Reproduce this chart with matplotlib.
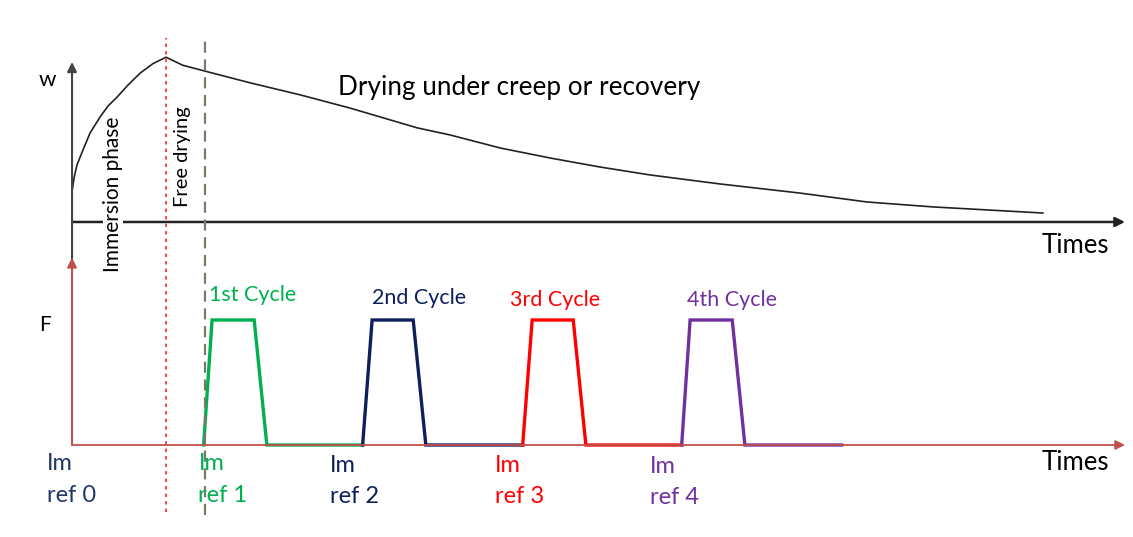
import matplotlib.pyplot as plt

plt.rcParams['font.family'] = ['Lato', 'DejaVu Sans']

# moisture content w(t) sketched over dimensionless time
w_time = [0, 0.19, 0.47, 1.04, 1.71, 2.66, 3.42, 4.27, 5.32, 6.46, 7.69, 8.93,
          10.5, 12.8, 16.9, 21.7, 26.4, 32.8, 35.9, 40.7, 45.4, 50.1,
          54.9, 61.5, 69.1, 75.5, 81.8, 92.2]
w_value = [0.19, 0.275, 0.356, 0.45, 0.556, 0.656, 0.725, 0.78, 0.856, 0.93, 0.99, 1.03,
           0.98, 0.94, 0.87, 0.794, 0.712, 0.588, 0.544, 0.462, 0.40, 0.344,
           0.294, 0.238, 0.181, 0.125, 0.094, 0.056]

# load cycles (time, F)
cycle_names = ['1st Cycle', '2nd Cycle', '3rd Cycle', '4th Cycle']
cycle_colors = ['#00b050', '#0d1f5c', '#ff0000', '#7030a0']
cycle_t = [
    [12.5, 13.3, 17.3, 18.5, 27.6],
    [27.6, 28.5, 32.4, 33.6, 42.8],
    [42.8, 43.7, 47.6, 48.8, 57.9],
    [57.9, 58.7, 62.7, 63.9, 73.1],
]
cycle_F = [0, 1, 1, 0, 0]
cycle_label_t = [13.0, 28.5, 41.6, 58.4]
cycle_label_F = [1.2, 1.176, 1.16, 1.16]

ref_labels = ['ref 0', 'ref 1', 'ref 2', 'ref 3', 'ref 4']
ref_colors = ['#1f3864', '#00b050', '#0d1f5c', '#ff0000', '#7030a0']
ref_t = [-2.4, 12.0, 24.5, 40.2, 54.9]
ref_im_F = [-0.144, -0.144, -0.165, -0.165, -0.17]
ref_F = [-0.405, -0.405, -0.41, -0.41, -0.42]

t_immersion_end = 8.9
t_free_end = 12.6

fig = plt.figure(figsize=(11.33, 5.37), dpi=100)
top = fig.add_axes([0, 0, 1, 1])
bot = fig.add_axes([0, 0, 1, 1])
bot.patch.set_alpha(0)
for ax in (top, bot):
    ax.set_xlim(-6.84, 100.76)
    ax.axis('off')
top.set_ylim(-1.969, 1.3875)
bot.set_ylim(-0.736, 3.56)

# top panel axes
top.annotate('', xy=(100, 0), xytext=(0, 0),
             arrowprops=dict(arrowstyle='-|>', color='#222222', lw=1.8,
                             mutation_scale=14, shrinkA=0, shrinkB=0))
top.annotate('', xy=(0, 1.0), xytext=(0, -0.23),
             arrowprops=dict(arrowstyle='-|>', color='#444444', lw=1.5,
                             mutation_scale=14, shrinkA=0, shrinkB=0))
top.plot(w_time, w_value, color='#222222', lw=1.2)

# bottom panel axes
axis_red = '#c0504d'
bot.annotate('', xy=(100, 0), xytext=(0, 0),
             arrowprops=dict(arrowstyle='-|>', color=axis_red, lw=1.3,
                             mutation_scale=14, shrinkA=0, shrinkB=0))
bot.annotate('', xy=(0, 1.5), xytext=(0, 0),
             arrowprops=dict(arrowstyle='-|>', color=axis_red, lw=1.5,
                             mutation_scale=14, shrinkA=0, shrinkB=0))

for t, c in zip(cycle_t, cycle_colors):
    bot.plot(t, cycle_F, color=c, lw=2.4, solid_joinstyle='miter')
for name, c, x, y in zip(cycle_names, cycle_colors, cycle_label_t, cycle_label_F):
    bot.text(x, y, name, color=c, fontsize=15.5, ha='left', va='center')

for lab, c, x, y1, y2 in zip(ref_labels, ref_colors, ref_t, ref_im_F, ref_F):
    bot.text(x, y1, 'Im', color=c, fontsize=17, ha='left', va='center')
    bot.text(x, y2, lab, color=c, fontsize=17, ha='left', va='center')

# phase boundaries
bot.axvline(t_immersion_end, ymin=25 / 537, ymax=1 - 38 / 537,
            color='#ff2020', lw=1.2, ls=(0, (2, 2.5)))
bot.axvline(t_free_end, ymin=22 / 537, ymax=1 - 40 / 537,
            color='#7a7a6a', lw=1.6, ls=(0, (5, 3)))

# texts
top.text(-2.3, 0.89, 'w', fontsize=16, ha='center', va='center')
bot.text(-2.6, 0.96, 'F', fontsize=15, ha='center', va='center')
top.text(25.3, 0.84, 'Drying under creep or recovery', fontsize=18.8,
         ha='left', va='center')
top.text(98.5, -0.15, 'Times', fontsize=18.5, ha='right', va='center')
bot.text(98.5, -0.136, 'Times', fontsize=18.5, ha='right', va='center')
top.text(3.9, 0.17, 'Immersion phase', fontsize=15, rotation=90,
         ha='center', va='center',
         bbox=dict(facecolor='white', edgecolor='none', pad=0))
top.text(10.5, 0.41, 'Free drying', fontsize=14.5, rotation=90,
         ha='center', va='center')

fig.savefig('out.png', dpi=100)
